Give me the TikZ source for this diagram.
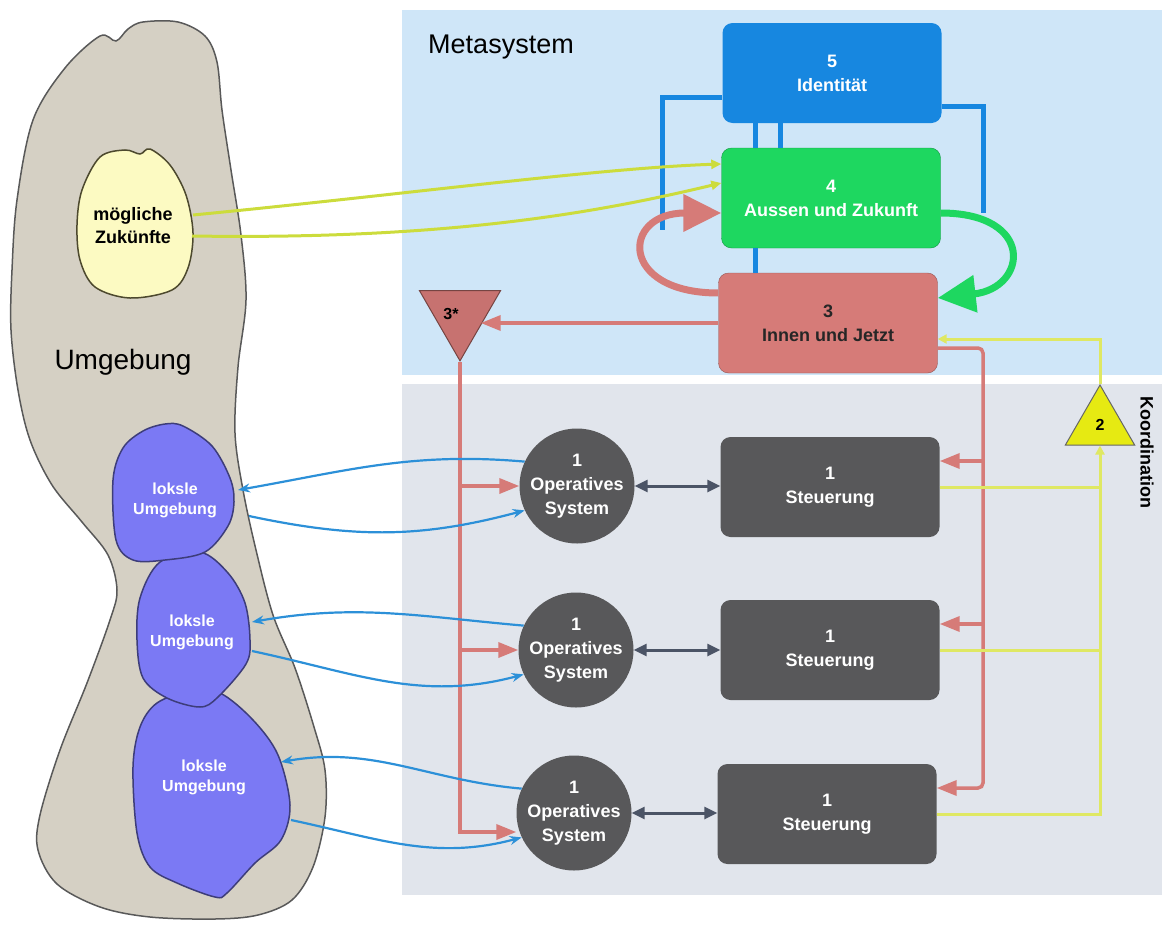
\documentclass[tikz,border=0pt]{standalone}
\usepackage{fontspec}
\setmainfont{Liberation Sans}
\usetikzlibrary{arrows.meta,shapes.geometric}
\definecolor{metablue}{HTML}{CFE6F8}
\definecolor{opgray}{HTML}{E1E5EC}
\definecolor{sand}{HTML}{D5D0C4}
\definecolor{futyellow}{HTML}{FCFAC2}
\definecolor{localblue}{HTML}{7B79F4}
\definecolor{idblue}{HTML}{1787E0}
\definecolor{futgreen}{HTML}{1ED760}
\definecolor{nowred}{HTML}{D67B78}
\definecolor{opdark}{HTML}{58585A}
\definecolor{linkblue}{HTML}{2C90D8}
\definecolor{koyellow}{HTML}{DFE863}
\definecolor{futline}{HTML}{CCDC3C}
\definecolor{duplexgray}{HTML}{4B5466}
\definecolor{coyellow}{HTML}{E6EA12}
\tikzset{sysbox/.style={rectangle, rounded corners=10pt, minimum width=219pt, minimum height=100pt, inner sep=0pt, align=center, font=\bfseries\fontsize{18}{24}\selectfont}}
\tikzset{steer/.style={sysbox, fill=opdark, text=white}}
\tikzset{opsys/.style={circle, fill=opdark, text=white, minimum size=115pt, inner sep=0pt, align=center, font=\bfseries\fontsize{18}{24}\selectfont}}
\tikzset{blobtext/.style={align=center, text=white, font=\bfseries\fontsize{16}{20}\selectfont}}
\tikzset{blobline/.style={line width=1.5pt}}
\tikzset{redarrow/.style={draw=nowred, line width=3.5pt, -{Triangle[length=20pt,width=15pt]}}}
\tikzset{linkarrow/.style={draw=linkblue, line width=2.2pt, -{Stealth[length=12pt,width=9pt]}}}
\tikzset{duplex/.style={draw=duplexgray, line width=3pt, {Triangle[length=13pt,width=12pt]}-{Triangle[length=13pt,width=12pt]}}}
\tikzset{koline/.style={draw=koyellow, line width=3pt}}
\tikzset{idline/.style={draw=idblue, line width=5pt}}
\tikzset{bigarrow/.style={line width=7pt, -{Triangle[length=38pt,width=36pt]}}}

\begin{document}
\begin{tikzpicture}[x=1pt, y=-1pt]
\useasboundingbox (0,0) rectangle (1162,926);
\fill[metablue] (402,10) rectangle (1162,375);
\fill[opgray] (402,384) rectangle (1162,895);

\path[blobline, draw=black!65, fill=sand] plot[smooth cycle, tension=0.55] coordinates {(143,22) (178,22) (205,36) (217,62) (222,110) (231,170) (241,235) (246,300) (238,367) (235,433) (243,490) (256,550) (273,615) (295,668) (314,727) (325,770) (325,817) (313,867) (292,900) (258,915) (215,919) (150,917) (100,907) (57,884) (38,850) (40,815) (60,750) (87,683) (110,620) (117,590) (108,555) (82,522) (52,485) (30,440) (18,390) (11,330) (12,270) (17,200) (33,120) (65,68) (100,36) (116,41) (128,29)};
\path[blobline, draw=black!60!olive, fill=futyellow] plot[smooth cycle, tension=0.55] coordinates {(100,157) (125,150) (140,154) (150,149) (170,165) (186,195) (193,233) (188,268) (172,290) (130,298) (95,287) (80,260) (77,225) (82,190)};
\path[blobline, draw=localblue!50!black, fill=localblue] plot[smooth cycle, tension=0.55] coordinates {(157,703) (190,691) (220,693) (253,720) (278,755) (290,805) (281,840) (255,863) (227,893) (215,897) (177,883) (150,867) (137,833) (133,767) (140,727)};
\path[blobline, draw=localblue!50!black, fill=localblue] plot[smooth cycle, tension=0.55] coordinates {(160,562) (200,552) (228,573) (245,603) (250,640) (246,664) (218,697) (200,707) (167,698) (143,678) (137,640) (140,598)};
\path[blobline, draw=localblue!50!black, fill=localblue] plot[smooth cycle, tension=0.55] coordinates {(165,424) (183,426) (212,446) (230,478) (234,502) (228,526) (205,552) (165,560) (133,560) (116,540) (113,480) (123,448) (143,431)};

\node[font=\fontsize{28}{32}\selectfont] (umg) at (123,362) {Umgebung};
\node[font=\fontsize{27}{32}\selectfont] (meta) at (501,47) {Metasystem};
\node[align=center, font=\bfseries\fontsize{18}{23}\selectfont] (fut) at (133,226) {mögliche\\Zukünfte};
\node[blobtext] (loc1) at (175,500) {loksle\\Umgebung};
\node[blobtext] (loc2) at (192,632) {loksle\\Umgebung};
\node[blobtext] (loc3) at (204,777) {loksle\\Umgebung};
\coordinate (fut-a) at (193,215);
\coordinate (fut-b) at (192,236);
\coordinate (loc1-in) at (238,490);
\coordinate (loc1-out) at (249,516);
\coordinate (loc2-in) at (252,622);
\coordinate (loc2-out) at (252,651);
\coordinate (loc3-in) at (281,762);
\coordinate (loc3-out) at (291,820);

\node[sysbox, fill=idblue, text=white] (box5) at (832,73) {5\\Identität};
\node[sysbox, fill=futgreen, draw=futgreen!70!black, text=white] (box4) at (831,198) {4\\Aussen und Zukunft};
\node[sysbox, fill=nowred, draw=nowred!70!black, text=black!85] (box3) at (828,323) {3\\Innen und Jetzt};
\node[regular polygon, regular polygon sides=3, shape border rotate=180, minimum size=86pt, inner sep=0pt, fill=nowred!93!black, draw=nowred!55!black, line width=1pt, font=\bfseries\fontsize{16}{18}\selectfont] (tri3) at (460,314) {\raisebox{-7pt}{3*\hspace{18pt}}};
\node[regular polygon, regular polygon sides=3, minimum size=80pt, inner sep=0pt, fill=coyellow, draw=black!60, line width=1pt, font=\bfseries\fontsize{16}{18}\selectfont] (tri2) at (1100,425) {2};
\node[rotate=-90, font=\bfseries\fontsize{18}{20}\selectfont] (koord) at (1147,452) {Koordination};

\foreach \i/\cx/\cy/\sx/\sy in {1/577/486/830/487, 2/576/650/830/650, 3/574/813/827/814} {
  \node[opsys] (c\i) at (\cx,\cy) {1\\Operatives\\System};
  \node[steer] (s\i) at (\sx,\sy) {1\\Steuerung};
  \coordinate (s\i-in) at ([yshift=26pt]s\i.east);
  \draw[duplex] (c\i.east) -- (c\i.east -| s\i.west);
}

\coordinate (idl) at (662,230);
\coordinate (idr) at (983,213);
\draw[idline] ([yshift=-24pt]box5.west) -| (idl);
\draw[idline] ([yshift=-33pt]box5.east) -| (idr);
\foreach \dx in {-77,-52}
  \draw[idline] ([xshift=\dx pt]box5.south) -- ([xshift=\dx pt]box5.south |- box4.north);
\draw[idline] ([xshift=-77pt]box5.south |- box4.south) -- ([xshift=-77pt]box5.south |- box3.north);

\draw[bigarrow, draw=nowred] ([yshift=30pt]box3.west) .. controls +(-100,0) and +(-100,0) .. ([yshift=-15pt]box4.west);
\draw[bigarrow, draw=futgreen] ([yshift=-15pt]box4.east) .. controls +(95,0) and +(90,-10) .. ([yshift=25pt]box3.east);

\draw[draw=futline, line width=3pt, -{Triangle[length=10pt,width=9pt]}] (fut-a) .. controls (400,195) and (600,168) .. ([yshift=34pt]box4.west);
\draw[draw=futline, line width=3pt, -{Triangle[length=10pt,width=9pt]}] (fut-b) .. controls (450,240) and (600,212) .. ([yshift=15pt]box4.west);

\draw[redarrow] (box3.west) -- (box3.west -| tri3.side 1);
\draw[redarrow] (tri3.corner 1) |- ([yshift=-19pt]c3.west);
\foreach \i in {1,2}
  \draw[redarrow] (tri3.corner 1 |- c\i.west) -- (c\i.west);

\coordinate (rail) at (983,348);
\draw[redarrow, rounded corners=5pt] ([yshift=-25pt]box3.east) -- (rail) |- (s3-in);
\foreach \i in {1,2}
  \draw[redarrow] (rail |- s\i-in) -- (s\i-in);

\draw[koline, -{Triangle[length=9pt,width=9pt]}] (tri2.corner 1) |- ([yshift=-16pt]box3.east);
\draw[koline, -{Triangle[length=9pt,width=9pt]}] (s3.east) -| (tri2.side 2);
\foreach \i in {1,2}
  \draw[koline] (s\i.east) -- (s\i.east -| tri2.side 2);

\foreach \i in {1,2,3} {
  \draw[linkarrow] (c\i.155) to[out=175, in=10] (loc\i-in);
  \draw[linkarrow] (loc\i-out) to[out=-12, in=195] (c\i.205);
}
\end{tikzpicture}
\end{document}
